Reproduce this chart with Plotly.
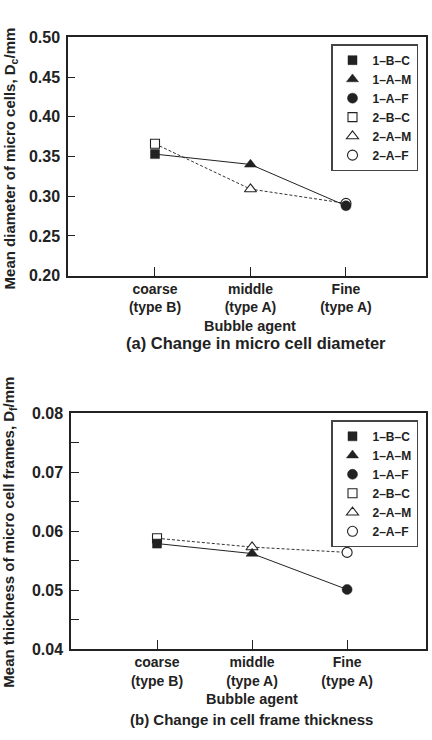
import plotly.graph_objects as go

categories = ["coarse<br>(type B)", "middle<br>(type A)", "Fine<br>(type A)"]
labels_1 = ["1–B–C", "1–A–M", "1–A–F"]
labels_2 = ["2–B–C", "2–A–M", "2–A–F"]
diam_1 = [0.353, 0.340, 0.288]
diam_2 = [0.366, 0.309, 0.291]
thick_1 = [0.0579, 0.0562, 0.0501]
thick_2 = [0.0588, 0.0573, 0.0564]

symbols = ["square", "triangle-up", "circle"]
msize = [9, 10.5, 10]

INK = "#222222"
FONT = "Liberation Sans, Arial, Helvetica, sans-serif"

fig = go.Figure()


def add_panel(xa, ya, legend, v1, v2):
    fig.add_trace(go.Scatter(x=categories, y=v2, mode="lines", xaxis=xa, yaxis=ya,
                             line=dict(color="#333333", width=1, dash="3px,2px"),
                             showlegend=False, hoverinfo="skip"))
    fig.add_trace(go.Scatter(x=categories, y=v1, mode="lines", xaxis=xa, yaxis=ya,
                             line=dict(color=INK, width=1),
                             showlegend=False, hoverinfo="skip"))
    for i in range(3):
        fig.add_trace(go.Scatter(x=[categories[i]], y=[v2[i]], mode="markers", xaxis=xa, yaxis=ya,
                                 name=labels_2[i], legend=legend, legendrank=10 + i,
                                 marker=dict(symbol=symbols[i], size=msize[i], color="white",
                                             line=dict(color=INK, width=1.1))))
    for i in range(3):
        fig.add_trace(go.Scatter(x=[categories[i]], y=[v1[i]], mode="markers", xaxis=xa, yaxis=ya,
                                 name=labels_1[i], legend=legend, legendrank=1 + i,
                                 marker=dict(symbol=symbols[i], size=msize[i], color=INK,
                                             line=dict(color=INK, width=0.5))))


add_panel("x", "y", "legend", diam_1, diam_2)
add_panel("x2", "y2", "legend2", thick_1, thick_2)

W, H = 432, 740


def px_x(p):
    return p / W


def px_y(p):
    return 1 - p / H


line_common = dict(showline=True, mirror=True, linecolor=INK, linewidth=1.5,
                   ticks="inside", tickcolor=INK, showgrid=False, zeroline=False)
xfont = dict(family=FONT, size=14, color=INK, weight="bold")
yfont = dict(family=FONT, size=16, color=INK, weight="bold")

legend_common = dict(xanchor="right", yanchor="top",
                     bgcolor="white", bordercolor="#444444", borderwidth=1.5,
                     font=dict(family=FONT, size=12, color=INK, weight="bold"),
                     itemsizing="trace")

fig.update_layout(
    width=W, height=H,
    margin=dict(l=0, r=0, t=0, b=0),
    paper_bgcolor="white", plot_bgcolor="white",
    font=dict(family=FONT, color=INK, weight="bold"),
    xaxis=dict(domain=[px_x(68), px_x(426)], anchor="y", type="category",
               range=[-0.911, 2.838], ticklen=9, tickfont=xfont, **line_common),
    yaxis=dict(domain=[px_y(274), px_y(30)], anchor="x", range=[0.20, 0.50],
               dtick=0.05, tickformat=".2f", ticklen=7, tickfont=yfont,
               ticklabelstandoff=3, **line_common),
    xaxis2=dict(domain=[px_x(71), px_x(426)], anchor="y2", type="category",
                range=[-0.905, 2.83], ticklen=9, tickfont=xfont, **line_common),
    yaxis2=dict(domain=[px_y(656), px_y(415)], anchor="x2", range=[0.04, 0.08],
                dtick=0.01, tickformat=".2f", ticklen=8, tickfont=yfont,
                ticklabelstandoff=3,
                minor=dict(dtick=0.005, ticks="inside", ticklen=8, tickcolor=INK),
                **line_common),
    legend=dict(x=px_x(418), y=px_y(37), **legend_common),
    legend2=dict(x=px_x(418), y=px_y(422), **legend_common),
)

annots = [
    dict(text="Mean diameter of micro cells, D<sub>c</sub>/mm", x=px_x(10), y=px_y(154),
         textangle=-90, size=15),
    dict(text="Bubble agent", x=px_x(250), y=px_y(325), size=14.5),
    dict(text="(a) Change in micro cell diameter", x=px_x(256), y=px_y(343), size=16.5),
    dict(text="Mean thickness of micro cell frames, D<sub>f</sub>/mm", x=px_x(10), y=px_y(537),
         textangle=-90, size=15),
    dict(text="Bubble agent", x=px_x(252), y=px_y(707), size=14.5),
    dict(text="(b) Change in cell frame thickness", x=px_x(251), y=px_y(728), size=15),
]
for a in annots:
    fig.add_annotation(text=a["text"], x=a["x"], y=a["y"], xref="paper", yref="paper",
                       xanchor="center", yanchor="middle", showarrow=False,
                       textangle=a.get("textangle", 0),
                       font=dict(family=FONT, size=a["size"], color=INK, weight="bold"))

fig.write_html("out.html")
